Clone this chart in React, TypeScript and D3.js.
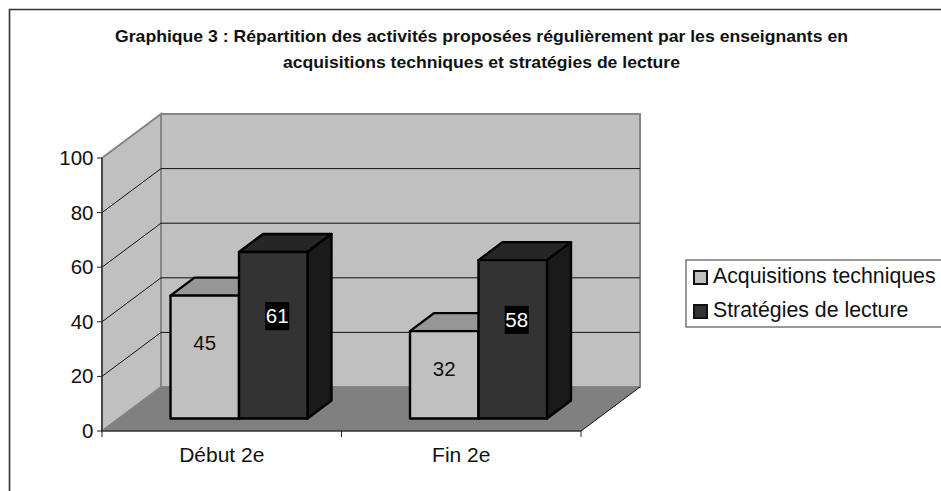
import React from "react";
import * as d3 from "d3";

const titleLines = [
  "Graphique 3 : Répartition des activités proposées régulièrement par les enseignants en",
  "acquisitions techniques et stratégies de lecture",
];
const categories = ["Début 2e", "Fin 2e"];
const seriesNames = ["Acquisitions techniques", "Stratégies de lecture"];
const acquisitions = [45, 32];
const strategies = [61, 58];
const yTicks = [0, 20, 40, 60, 80, 100];

const FONT = "'Liberation Sans', Arial, sans-serif";
const x = d3.scaleBand<string>().domain(categories).range([102, 581]);
const y = d3.scaleLinear().domain([0, 100]).range([431, 158]);
const depthX = 59;
const depthY = -44;
const seriesValues = [acquisitions, strategies];
const fronts = ["#c0c0c0", "#333333"];
const tops = ["#969696", "#262626"];
const sides = ["#909090", "#1a1a1a"];
const labelBg = [null, "#000000"];
const labelFg = ["#111111", "#ffffff"];
const labelDy = [[-14, -19], [-6, -19.5]];
const path = (pts: number[][]) => d3.line()(pts as [number, number][]) + "Z";

export default function App() {
  const bw = x.bandwidth();
  const x0 = 102;
  const x1 = 581;
  const y0 = y(0);
  const yT = y(100);
  return (
    <svg width={941} height={491} style={{ position: "absolute", left: 0, top: 0, background: "#fff" }} fontFamily={FONT}>
      <path d="M960,9.5H9.5V500" fill="none" stroke="#333" strokeWidth={1.6} />
      {titleLines.map((t, i) => (
        <text key={t} x={481.5} y={42 + i * 26} textAnchor="middle" fontSize={17} fontWeight="bold" textLength={i === 0 ? 733 : 397} lengthAdjust="spacingAndGlyphs" fill="#111">{t}</text>
      ))}
      {/* walls */}
      <path d={path([[x0, y0], [x0 + depthX, y0 + depthY], [x0 + depthX, yT + depthY], [x0, yT]])} fill="#c0c0c0" stroke="#868686" strokeWidth={2} />
      <path d={path([[x0 + depthX, y0 + depthY], [x1 + depthX, y0 + depthY], [x1 + depthX, yT + depthY], [x0 + depthX, yT + depthY]])} fill="#c0c0c0" stroke="#868686" strokeWidth={2} />
      <path d={path([[x0, y0], [x0 + depthX, y0 + depthY], [x1 + depthX, y0 + depthY], [x1, y0]])} fill="#808080" />
      {/* gridlines */}
      {yTicks.filter((t) => t > 0 && t < 100).map((t) => (
        <path key={t} d={`M${x0},${y(t)}L${x0 + depthX},${y(t) + depthY}L${x1 + depthX},${y(t) + depthY}`} fill="none" stroke="#111" strokeWidth={1} />
      ))}
      <path d={`M${x1},${y0}L${x1 + depthX},${y0 + depthY}`} stroke="#111" fill="none" />
      {/* axes */}
      <path d={`M${x0},${yT}V${y0}H${x1}`} fill="none" stroke="#333" strokeWidth={1.5} />
      {yTicks.map((t) => (
        <g key={t}>
          <line x1={x0 - 5} x2={x0} y1={y(t)} y2={y(t)} stroke="#222" />
          <text x={93.5} y={y(t) + 7} textAnchor="end" fontSize={20.5} fill="#111">{t}</text>
        </g>
      ))}
      {[x0, x0 + bw, x1].map((p) => (
        <line key={p} x1={p} x2={p} y1={y0} y2={y0 + 6} stroke="#222" />
      ))}
      {categories.map((c) => (
        <text key={c} x={(x(c) as number) + bw / 2} y={462} textAnchor="middle" fontSize={21} fill="#111">{c}</text>
      ))}
      {/* bars */}
      {categories.map((c, ci) => {
        const left = (x(c) as number) + 68.5;
        const w = 68.5;
        return seriesValues.map((vals, si) => {
          const bx = left + si * w;
          const base = y(0) - 12.5;
          const top = base - (y(0) - y(vals[ci]));
          const dx = 24;
          const dy = -18;
          return (
            <g key={c + si} stroke="#000" strokeWidth={2.4} strokeLinejoin="round">
              <path d={path([[bx, top], [bx + dx, top + dy], [bx + w + dx, top + dy], [bx + w, top]])} fill={tops[si]} />
              <path d={path([[bx + w, top], [bx + w + dx, top + dy], [bx + w + dx, base + dy], [bx + w, base]])} fill={sides[si]} />
              <rect x={bx} y={top} width={w} height={base - top} fill={fronts[si]} />
            </g>
          );
        });
      })}
      {categories.map((c, ci) => {
        const left = (x(c) as number) + 68.5;
        const w = 68.5;
        return seriesValues.map((vals, si) => {
          const cx = left + si * w + w / 2 + (si === 1 ? 4 : 0);
          const base = y(0) - 12.5;
          const cy = base - (y(0) - y(vals[ci])) / 2 + labelDy[ci][si];
          const bg = labelBg[si];
          return (
            <g key={c + si}>
              {bg && <rect x={cx - 12} y={cy - 14} width={24} height={28} fill={bg} />}
              <text x={cx} y={cy + 7} textAnchor="middle" fontSize={20.5} fill={labelFg[si]}>{vals[ci]}</text>
            </g>
          );
        });
      })}
      {/* legend */}
      <rect x={686} y={260} width={270} height={67} fill="#fff" stroke="#333" strokeWidth={1} />
      {seriesNames.map((s, i) => (
        <g key={s}>
          <rect x={694} y={271 + i * 34} width={13} height={13} fill={fronts[i]} stroke="#111" strokeWidth={2} />
          <text x={713} y={283 + i * 34} fontSize={21.3} fill="#111">{s}</text>
        </g>
      ))}
    </svg>
  );
}
